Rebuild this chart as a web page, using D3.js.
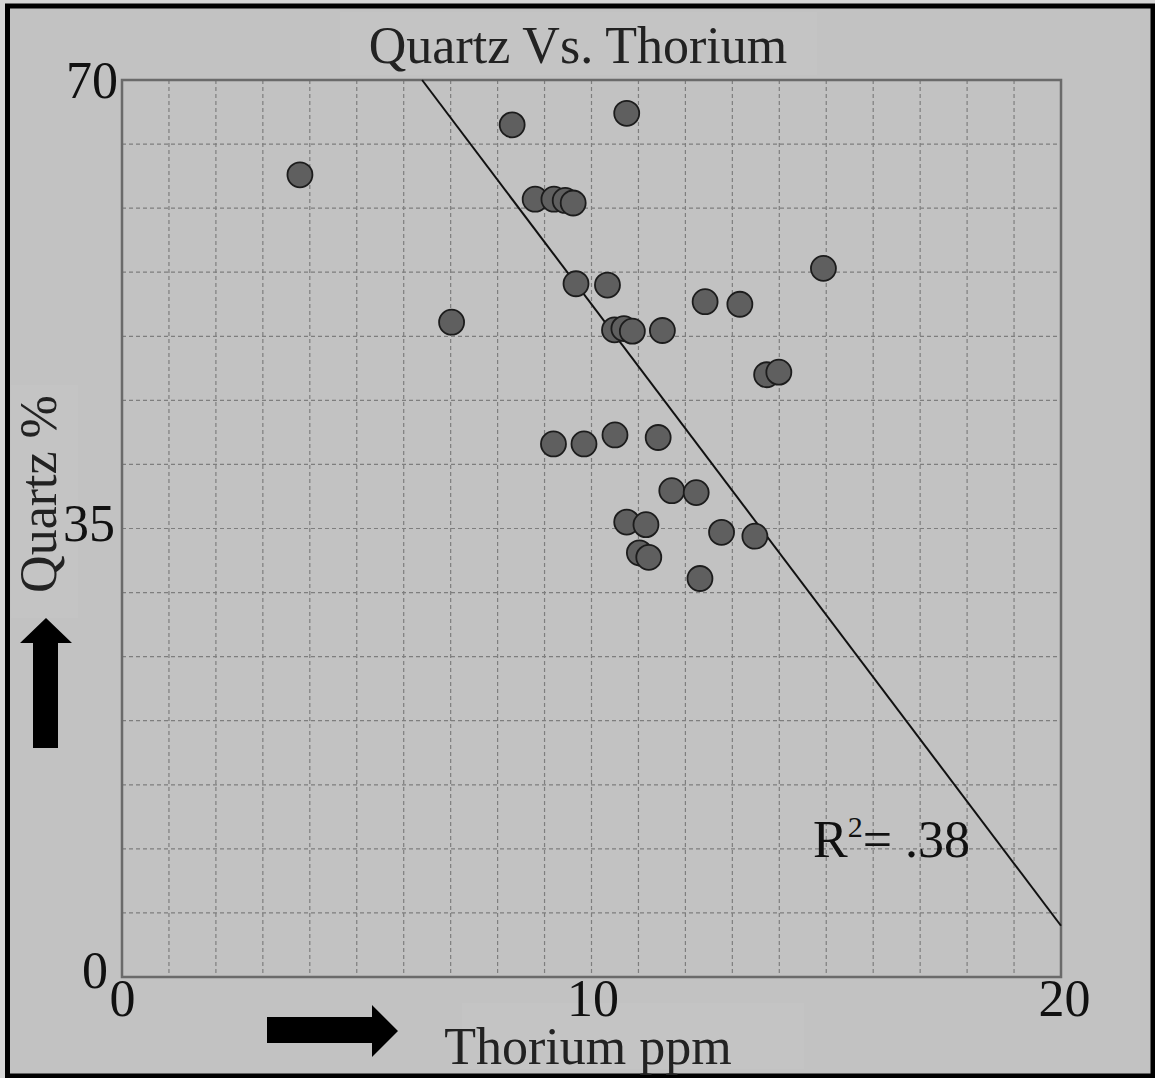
<!DOCTYPE html>
<html>
<head>
<meta charset="utf-8">
<script src="https://cdn.jsdelivr.net/npm/d3@7"></script>
<style>
  html, body { margin: 0; padding: 0; background: #d6d6d6; }
  svg { display: block; }
  text { font-family: "Liberation Serif", "Times New Roman", serif; }
</style>
</head>
<body>
<svg id="chart" width="1155" height="1078"></svg>
<script>
// Thorium (ppm) for each sample
const thorium = [
  3.79, 8.31, 10.75, 8.80, 9.20, 9.44, 9.61, 9.67, 10.34, 7.02,
  10.49, 10.69, 10.87, 11.51, 12.42, 13.16, 14.94, 13.73, 13.99,
  9.19, 9.84, 10.50, 11.42, 11.71, 12.23, 10.75, 11.16, 12.77,
  13.48, 11.02, 11.22, 12.31
];
// Quartz (%) for each sample
const quartz = [
  62.6, 66.5, 67.4, 60.7, 60.7, 60.6, 60.4, 54.1, 54.0, 51.1,
  50.5, 50.6, 50.4, 50.45, 52.7, 52.5, 55.3, 47.0, 47.2,
  41.6, 41.6, 42.3, 42.1, 37.95, 37.8, 35.5, 35.3, 34.7,
  34.4, 33.1, 32.75, 31.1
];
// Trend line: quartz = intercept + slope * thorium
const fitIntercept = 101.0;
const fitSlope = -4.85;
const rSquared = ".38";

const xTicks = [0, 10, 20];
const yTicks = [0, 35, 70];
const xGrid = d3.range(1, 20, 1);
const yGrid = d3.range(5, 70, 5);

const svg = d3.select("#chart");
const W = 1155, H = 1078;

// frame and page background
svg.append("rect").attr("x", 0).attr("y", 0).attr("width", W).attr("height", H).attr("fill", "#d6d6d6");
svg.append("rect").attr("x", 7.5).attr("y", 6).attr("width", 1145.5).attr("height", 1070)
  .attr("fill", "#c2c2c2").attr("stroke", "#000").attr("stroke-width", 5);

// faint text boxes behind titles
svg.append("rect").attr("x", 340).attr("y", 12).attr("width", 477).attr("height", 63).attr("fill", "#c4c4c4");
svg.append("rect").attr("x", 462).attr("y", 1003).attr("width", 342).attr("height", 66).attr("fill", "#c4c4c4");
svg.append("rect").attr("x", 11).attr("y", 385).attr("width", 67).attr("height", 233).attr("fill", "#c4c4c4");

const x = d3.scaleLinear().domain([0, 20]).range([122, 1061]);
const y = d3.scaleLinear().domain([0, 70]).range([977, 80]);

// grid
const grid = svg.append("g").attr("stroke", "#7e7e7e").attr("stroke-width", 1.2)
  .attr("stroke-dasharray", "4,3").attr("fill", "none");
grid.selectAll("line.v").data(xGrid).join("line").attr("class", "v")
  .attr("x1", d => x(d)).attr("x2", d => x(d)).attr("y1", y(70)).attr("y2", y(0));
grid.selectAll("line.h").data(yGrid).join("line").attr("class", "h")
  .attr("y1", d => y(d)).attr("y2", d => y(d)).attr("x1", x(0)).attr("x2", x(20));

// plot border
svg.append("rect").attr("x", x(0)).attr("y", y(70)).attr("width", x(20) - x(0)).attr("height", y(0) - y(70))
  .attr("fill", "none").attr("stroke", "#6a6a6a").attr("stroke-width", 2.5);

// axes labels via d3 axes (no tick marks)
const yAxis = svg.append("g").attr("transform", `translate(${x(0) - 4},0)`)
  .call(d3.axisLeft(y).tickValues(yTicks).tickSize(0).tickPadding(0).tickFormat(d3.format("d")));
yAxis.select(".domain").remove();
const yDy = {0: 10, 35: 12, 70: 17};
yAxis.selectAll(".tick text").attr("dy", null)
  .attr("y", d => yDy[d]).attr("x", d => d === 0 ? -10 : (d === 35 ? -3 : 0))
  .attr("font-size", 52).attr("fill", "#111")
  .style("font-family", '"Liberation Serif", serif');

const xAxis = svg.append("g").attr("transform", `translate(0,${y(0)})`)
  .call(d3.axisBottom(x).tickValues(xTicks).tickSize(0).tickPadding(0).tickFormat(d3.format("d")));
xAxis.select(".domain").remove();
xAxis.selectAll(".tick text").attr("dy", null).attr("y", 39)
  .attr("x", d => d === 20 ? 3 : (d === 10 ? 1 : 0))
  .attr("font-size", 52).attr("fill", "#111")
  .style("font-family", '"Liberation Serif", serif');

// trend line, clipped to the plot box
const xStart = Math.max(0, (fitIntercept - 70) / -fitSlope);
const xEnd = 20;
svg.append("line")
  .attr("x1", x(xStart)).attr("y1", y(fitIntercept + fitSlope * xStart))
  .attr("x2", x(xEnd)).attr("y2", y(fitIntercept + fitSlope * xEnd))
  .attr("stroke", "#111").attr("stroke-width", 2);

// samples
const pts = thorium.map((t, i) => ({ t, q: quartz[i] }));
svg.append("g").selectAll("circle").data(pts).join("circle")
  .attr("cx", d => x(d.t)).attr("cy", d => y(d.q)).attr("r", 12.5)
  .attr("fill", "#5f5f5f").attr("stroke", "#1c1c1c").attr("stroke-width", 1.8);

// titles
svg.append("text").attr("x", 578).attr("y", 63).attr("text-anchor", "middle")
  .attr("font-size", 52).attr("fill", "#222").text("Quartz Vs. Thorium");
svg.append("text").attr("x", 588).attr("y", 1064).attr("text-anchor", "middle")
  .attr("font-size", 52).attr("fill", "#222").text("Thorium ppm");
svg.append("text").attr("transform", "translate(56,494) rotate(-90)").attr("text-anchor", "middle")
  .attr("font-size", 52).attr("fill", "#222").text("Quartz %");

// R squared annotation
const r2 = svg.append("text").attr("x", 813).attr("y", 857).attr("font-size", 52).attr("fill", "#111");
r2.append("tspan").text("R");
r2.append("tspan").attr("font-size", 30).attr("dy", -20).text("2");
r2.append("tspan").attr("dy", 20).text("= " + rSquared);

// direction arrows
svg.append("path")
  .attr("d", "M33,748 L58,748 L58,643 L72,643 L46,618 L20,643 L33,643 Z")
  .attr("fill", "#000");
svg.append("path")
  .attr("d", "M267,1017 L372,1017 L372,1005 L398,1031 L372,1057 L372,1043 L267,1043 Z")
  .attr("fill", "#000");
</script>
</body>
</html>
